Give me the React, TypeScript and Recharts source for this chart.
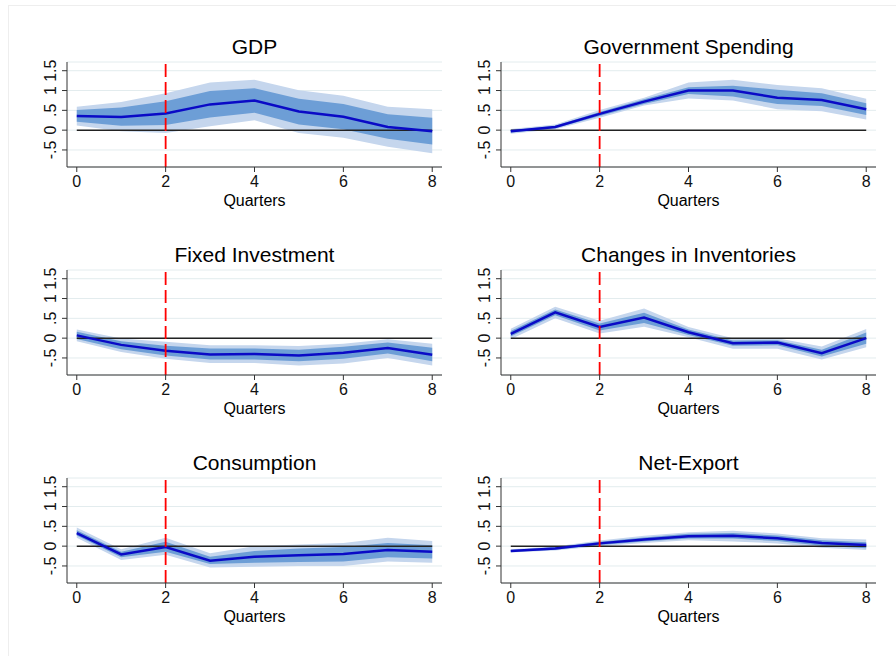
import React from 'react';
import { ComposedChart, Area, Line, XAxis, YAxis, CartesianGrid, ReferenceLine } from 'recharts';

const quarters = [0, 1, 2, 3, 4, 5, 6, 7, 8];
const xTicks = [0, 2, 4, 6, 8];
const yTicks = [-0.5, 0, 0.5, 1, 1.5];
const yTickLabels = ['-.5', '0', '.5', '1', '1.5'];
const shockQuarter = 2;

// GDP
const gdpIrf = [0.36, 0.33, 0.42, 0.65, 0.75, 0.47, 0.34, 0.08, -0.03];
const gdpHi68 = [0.51, 0.57, 0.73, 0.99, 1.06, 0.79, 0.66, 0.4, 0.31];
const gdpLo68 = [0.21, 0.11, 0.13, 0.32, 0.44, 0.14, 0.02, -0.22, -0.36];
const gdpHi90 = [0.59, 0.71, 0.93, 1.2, 1.27, 1.01, 0.87, 0.59, 0.53];
const gdpLo90 = [0.12, -0.03, -0.07, 0.1, 0.25, -0.07, -0.19, -0.42, -0.58];

// Government spending
const govIrf = [-0.03, 0.08, 0.41, 0.72, 1.0, 1.0, 0.82, 0.76, 0.53];
const govHi68 = [0.0, 0.11, 0.46, 0.78, 1.08, 1.12, 1.02, 0.93, 0.68];
const govLo68 = [-0.06, 0.05, 0.36, 0.66, 0.91, 0.85, 0.66, 0.61, 0.38];
const govHi90 = [0.03, 0.14, 0.51, 0.82, 1.2, 1.27, 1.14, 1.06, 0.79];
const govLo90 = [-0.09, 0.02, 0.31, 0.62, 0.8, 0.75, 0.53, 0.48, 0.27];

// Fixed investment
const invIrf = [0.07, -0.17, -0.32, -0.41, -0.4, -0.44, -0.37, -0.25, -0.42];
const invHi68 = [0.16, -0.08, -0.19, -0.26, -0.26, -0.29, -0.22, -0.11, -0.24];
const invLo68 = [-0.02, -0.28, -0.44, -0.54, -0.54, -0.58, -0.52, -0.39, -0.58];
const invHi90 = [0.22, -0.01, -0.09, -0.18, -0.18, -0.2, -0.14, -0.03, -0.14];
const invLo90 = [-0.08, -0.35, -0.52, -0.63, -0.63, -0.69, -0.64, -0.5, -0.69];

// Changes in inventories
const stkIrf = [0.11, 0.65, 0.28, 0.52, 0.15, -0.13, -0.11, -0.38, 0.0];
const stkHi68 = [0.18, 0.72, 0.37, 0.64, 0.22, -0.06, -0.05, -0.29, 0.14];
const stkLo68 = [0.04, 0.58, 0.19, 0.38, 0.08, -0.19, -0.18, -0.46, -0.14];
const stkHi90 = [0.24, 0.79, 0.44, 0.75, 0.28, 0.0, 0.0, -0.21, 0.23];
const stkLo90 = [-0.03, 0.5, 0.12, 0.29, 0.02, -0.27, -0.27, -0.54, -0.23];

// Consumption
const conIrf = [0.33, -0.21, -0.02, -0.37, -0.27, -0.23, -0.2, -0.1, -0.14];
const conHi68 = [0.4, -0.14, 0.11, -0.27, -0.12, -0.06, -0.02, 0.08, 0.02];
const conLo68 = [0.27, -0.28, -0.14, -0.45, -0.42, -0.4, -0.39, -0.28, -0.31];
const conHi90 = [0.47, -0.08, 0.21, -0.18, 0.0, 0.04, 0.08, 0.21, 0.13];
const conLo90 = [0.21, -0.35, -0.22, -0.54, -0.52, -0.5, -0.5, -0.39, -0.42];

// Net export
const nxIrf = [-0.12, -0.06, 0.07, 0.17, 0.25, 0.26, 0.2, 0.08, 0.03];
const nxHi68 = [-0.1, -0.03, 0.11, 0.22, 0.31, 0.33, 0.27, 0.15, 0.1];
const nxLo68 = [-0.14, -0.09, 0.03, 0.12, 0.19, 0.19, 0.13, 0.01, -0.05];
const nxHi90 = [-0.08, -0.01, 0.14, 0.26, 0.35, 0.39, 0.32, 0.2, 0.17];
const nxLo90 = [-0.16, -0.11, 0.0, 0.08, 0.15, 0.12, 0.07, -0.04, -0.1];

const FONT = '"Liberation Sans", Arial, Helvetica, sans-serif';
const PLOT_W = 375;
const PLOT_H = 105;
const Y_AXIS_W = 67;
const TOP_PAD = 10;

const build = (irf: number[], lo68: number[], hi68: number[], lo90: number[], hi90: number[]) =>
  quarters.map((q, i) => ({
    q,
    irf: irf[i],
    band68: [lo68[i], hi68[i]],
    band90: [lo90[i], hi90[i]],
    zero: 0,
  }));

const panels = [
  { title: 'GDP', data: build(gdpIrf, gdpLo68, gdpHi68, gdpLo90, gdpHi90), left: 0, top: 61.7 },
  { title: 'Government Spending', data: build(govIrf, govLo68, govHi68, govLo90, govHi90), left: 434, top: 61.7 },
  { title: 'Fixed Investment', data: build(invIrf, invLo68, invHi68, invLo90, invHi90), left: 0, top: 269.5 },
  { title: 'Changes in Inventories', data: build(stkIrf, stkLo68, stkHi68, stkLo90, stkHi90), left: 434, top: 269.5 },
  { title: 'Consumption', data: build(conIrf, conLo68, conHi68, conLo90, conHi90), left: 0, top: 477.7 },
  { title: 'Net-Export', data: build(nxIrf, nxLo68, nxHi68, nxLo90, nxHi90), left: 434, top: 477.7 },
];

const YTick = (props: any) => {
  const { x, y, payload } = props;
  const idx = yTicks.indexOf(payload.value);
  return (
    <g transform={`translate(${x - 6.5},${y}) rotate(-90)`}>
      <text textAnchor="middle" fontSize={16} fill="#111" fontFamily={FONT}>
        {idx >= 0 ? yTickLabels[idx] : payload.value}
      </text>
    </g>
  );
};

function Panel({ title, data, left, top }: any) {
  const plotLeft = left + Y_AXIS_W;
  return (
    <>
      <div
        style={{
          position: 'absolute', left: plotLeft, top: top - 27, width: PLOT_W,
          textAlign: 'center', fontSize: 21, lineHeight: '24px', fontFamily: FONT, color: '#000',
        }}
      >
        {title}
      </div>
      <div style={{ position: 'absolute', left, top: top - TOP_PAD }}>
        <ComposedChart
          width={Y_AXIS_W + PLOT_W + 6}
          height={TOP_PAD + PLOT_H + 45}
          data={data}
          margin={{ top: TOP_PAD, right: 6, bottom: 0, left: 0 }}
        >
          <CartesianGrid vertical={false} stroke="#e3ecee" strokeWidth={1} />
          <XAxis
            dataKey="q"
            type="number"
            domain={[-0.22, 8.22]}
            ticks={xTicks}
            interval={0}
            allowDataOverflow
            height={45}
            tickSize={5}
            tickMargin={4}
            stroke="#333"
            tick={{ fontSize: 16, fill: '#111', fontFamily: FONT }}
          />
          <YAxis
            type="number"
            domain={[-0.93, 1.72]}
            ticks={yTicks}
            interval={0}
            allowDataOverflow
            width={Y_AXIS_W}
            tickSize={5}
            tickMargin={0}
            stroke="#333"
            tick={<YTick />}
          />
          <Area dataKey="band90" type="linear" stroke="none" fill="#c5d6ed" fillOpacity={1} isAnimationActive={false} />
          <Area dataKey="band68" type="linear" stroke="none" fill="#6d9ed6" fillOpacity={1} isAnimationActive={false} />
          <Line dataKey="zero" type="linear" stroke="#222" strokeWidth={1.5} dot={false} isAnimationActive={false} />
          <Line dataKey="irf" type="linear" stroke="#0a0ac6" strokeWidth={2.5} dot={false} isAnimationActive={false} />
          <ReferenceLine x={shockQuarter} stroke="#ff0000" strokeWidth={1.8} strokeDasharray="13 5" />
        </ComposedChart>
      </div>
      <div
        style={{
          position: 'absolute', left: plotLeft, top: top + PLOT_H + 24, width: PLOT_W,
          textAlign: 'center', fontSize: 16, lineHeight: '20px', fontFamily: FONT, color: '#000',
        }}
      >
        Quarters
      </div>
    </>
  );
}

export default function App() {
  return (
    <div style={{ position: 'absolute', left: 0, top: 0, width: 896, height: 656, background: '#fff', overflow: 'hidden' }}>
      <div style={{ position: 'absolute', left: 8, top: 5, width: 1000, height: 1000, borderTop: '1px solid #eeeeee', borderLeft: '1px solid #eeeeee' }} />
      {panels.map((p) => (
        <Panel key={p.title} {...p} />
      ))}
    </div>
  );
}
